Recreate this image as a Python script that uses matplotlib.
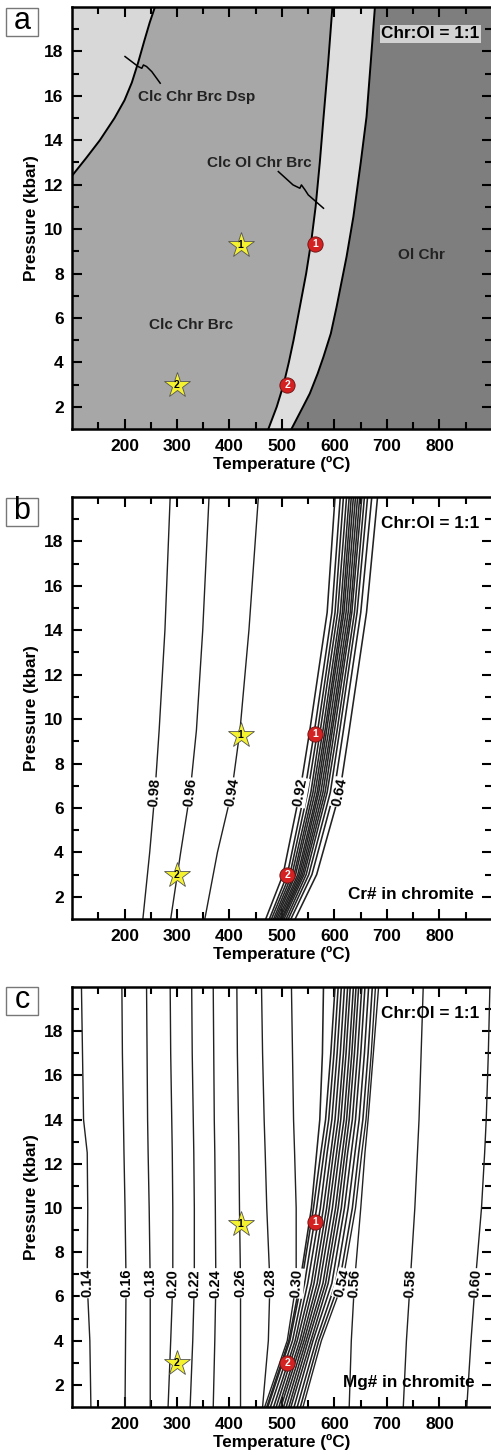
import numpy as np
import matplotlib
matplotlib.use('Agg')
import matplotlib.pyplot as plt
from matplotlib.patches import Rectangle

plt.rcParams['font.family'] = ['Liberation Sans', 'DejaVu Sans']
plt.rcParams['font.weight'] = 'bold'
plt.rcParams['axes.labelweight'] = 'bold'

# sample points (T in C, P in kbar)
stars_T = [421, 300]
stars_P = [9.3, 3.0]
dots_T = [563, 510]
dots_P = [9.35, 3.0]
point_ids = ['1', '2']

# panel a: phase boundaries
dsp_T = [100, 127, 153, 181, 200, 214, 226, 238, 248, 258]
dsp_P = [12.4, 13.2, 14.0, 15.0, 15.8, 16.6, 17.5, 18.5, 19.3, 20.0]
ol_in_T = [474, 490, 503, 513, 522, 534, 546, 556, 564, 572, 579, 588, 596]
ol_in_P = [1, 2, 3, 4, 5, 6.5, 8, 9.5, 11, 13, 15, 17.5, 20]
brc_out_T = [518, 540, 553, 568, 579, 593, 604, 623, 636, 650, 661, 669, 677]
brc_out_P = [1, 2, 2.6, 3.5, 4.25, 5.3, 6.5, 8.76, 10.56, 13, 15.06, 17.5, 20]

# leader lines from field names to boundaries
lead_dsp_T = [268, 252, 242, 236, 233, 226, 201]
lead_dsp_P = [16.57, 17.09, 17.32, 17.39, 17.24, 17.32, 17.77]
lead_ol_T = [493, 521, 534, 537, 544, 550, 579]
lead_ol_P = [12.59, 11.99, 11.84, 11.99, 11.76, 11.54, 10.94]

field_names = ['Clc Chr Brc Dsp', 'Clc Ol Chr Brc', 'Ol Chr', 'Clc Chr Brc']
field_T = [337, 457, 766, 326]
field_P = [15.96, 12.96, 8.83, 5.68]

# panel b: Cr# isopleths
cr_P = [1, 4, 6.7, 9.5, 14, 20]
cr_levels = ['0.98', '0.96', '0.94']
cr_T = [[235, 248, 258, 266, 277, 287],
        [288, 307, 325, 337, 349, 361],
        [353, 377, 404, 420, 437, 455]]
cr_band_P = [1, 3, 6.7, 9.5, 14.8, 20]
cr_band_levels = ['0.92', '0.90', '0.88', '0.86', '0.84', '0.82', '0.80', '0.78',
                  '0.76', '0.74', '0.72', '0.70', '0.68', '0.66', '0.64']
cr_band_T = [[469, 502, 534, 553, 586, 601],
             [476, 510, 543, 562, 595, 611],
             [480, 515, 549, 568, 601, 617],
             [484, 519, 555, 573, 606, 623],
             [487, 523, 559, 578, 611, 628],
             [490, 526, 563, 582, 615, 632],
             [493, 530, 567, 585, 618, 636],
             [496, 533, 570, 589, 622, 640],
             [499, 536, 574, 593, 626, 644],
             [501, 539, 578, 596, 630, 648],
             [504, 542, 582, 600, 633, 652],
             [508, 546, 586, 605, 638, 657],
             [512, 551, 592, 610, 643, 663],
             [517, 557, 599, 617, 650, 671],
             [525, 566, 610, 628, 661, 682]]

# panel c: Mg# isopleths
mg_P = [1, 4, 6.6, 10, 12.5, 14, 17, 20]
mg_levels = ['0.14', '0.16', '0.18', '0.20', '0.22', '0.24', '0.26', '0.28', '0.30',
             '0.54', '0.56', '0.58', '0.60']
mg_T = [[136, 134, 129, 130, 129, 122, 120, 118],
        [201, 202, 203, 201, 199, 198, 196, 195],
        [249, 249, 249, 247, 245, 244, 243, 242],
        [283, 288, 292, 292, 291, 290, 288, 287],
        [325, 330, 333, 333, 332, 331, 329, 328],
        [369, 372, 374, 373, 372, 371, 370, 369],
        [421, 421, 421, 419, 418, 417, 415, 414],
        [463, 474, 477, 471, 468, 466, 463, 461],
        [467, 510, 527, 527, 524, 522, 520, 518],
        [540, 575, 615, 640, 652, 660, 670, 678],
        [628, 632, 638, 650, 658, 664, 674, 684],
        [731, 737, 744, 753, 758, 761, 765, 769],
        [852, 860, 868, 880, 886, 889, 893, 896]]
# unlabelled isopleths packed between 0.30 and 0.54
mg_band_T = [[471, 513, 534, 556, 566, 572, 577, 579],
             [473, 515, 537, 560, 574, 583, 593, 601],
             [478, 520, 543, 566, 580, 589, 599, 607],
             [484, 525, 549, 573, 586, 595, 605, 613],
             [489, 529, 556, 579, 593, 601, 611, 619],
             [494, 534, 561, 585, 598, 607, 617, 625],
             [498, 538, 567, 590, 604, 612, 622, 630],
             [503, 542, 572, 596, 609, 618, 628, 636],
             [508, 546, 578, 602, 615, 623, 633, 641],
             [513, 550, 583, 607, 620, 628, 638, 646],
             [517, 555, 588, 613, 625, 634, 644, 652],
             [523, 559, 595, 619, 632, 640, 650, 658],
             [529, 565, 602, 626, 639, 647, 657, 665],
             [535, 570, 609, 634, 646, 654, 664, 672]]

LINE_COLOR = '#222222'


def style_axes(ax):
    ax.set_xlim(100, 900)
    ax.set_ylim(1, 20)
    ax.set_xticks(range(200, 900, 100))
    ax.set_xticks(range(150, 900, 100), minor=True)
    ax.set_yticks(range(2, 20, 2))
    ax.set_yticks(range(3, 20, 2), minor=True)
    ax.tick_params(which='both', direction='in', top=True, right=True, width=1.5)
    ax.tick_params(which='major', length=7, labelsize=12.5)
    ax.tick_params(which='minor', length=5)
    ax.tick_params(axis='x', which='major', pad=7)
    ax.tick_params(axis='y', which='major', pad=6)
    for s in ax.spines.values():
        s.set_linewidth(1.8)
    ax.set_xlabel('Temperature (ºC)', fontsize=12.3, labelpad=2)
    ax.set_ylabel('Pressure (kbar)', fontsize=12.3, labelpad=4)


def add_points(ax):
    ax.plot(stars_T, stars_P, ls='none', marker='*', ms=19, mfc='#f5f230',
            mec='#555555', mew=0.6, zorder=5)
    ax.plot(dots_T, dots_P, ls='none', marker='o', ms=11, mfc='#d42222',
            mec='#6a1010', mew=0.6, zorder=5)
    for t, p, n in zip(stars_T, stars_P, point_ids):
        ax.text(t, p, n, fontsize=7.5, ha='center', va='center', color='black', zorder=6)
    for t, p, n in zip(dots_T, dots_P, point_ids):
        ax.text(t, p, n, fontsize=7.5, ha='center', va='center', color='white', zorder=6)


def label_line(ax, T, P, p0, text):
    t0 = np.interp(p0, P, T)
    a = ax.transData.transform((np.interp(p0 - 1, P, T), p0 - 1))
    b = ax.transData.transform((np.interp(p0 + 1, P, T), p0 + 1))
    ang = np.degrees(np.arctan2(b[1] - a[1], b[0] - a[0]))
    ax.text(t0, p0, text, rotation=ang, rotation_mode='anchor', ha='center',
            va='center', fontsize=10.5, zorder=4,
            bbox=dict(fc='white', ec='none', pad=0.5))


def panel_letter(fig, top_px, letter):
    # boxed panel letter, box 32 x 28 px
    x0, w, h = 6 / 491, 32 / 491, 28 / 1455
    y0 = 1 - (top_px + 28) / 1455
    fig.patches.append(Rectangle((x0, y0), w, h, transform=fig.transFigure,
                                 fc='white', ec='#777777', lw=1))
    fig.text(x0 + w / 2, y0 + h / 2 + 0.001, letter, fontsize=22, fontweight='normal',
             ha='center', va='center')


fig = plt.figure(figsize=(4.91, 14.55), dpi=100)
ax_a = fig.add_axes([72 / 491, 1 - 429 / 1455, 420 / 491, 422 / 1455])
ax_b = fig.add_axes([72 / 491, 1 - 919 / 1455, 420 / 491, 422 / 1455])
ax_c = fig.add_axes([72 / 491, 1 - 1407 / 1455, 420 / 491, 420 / 1455])
for ax in (ax_a, ax_b, ax_c):
    style_axes(ax)

# ---- panel a: phase diagram ----
ax_a.set_facecolor('#a7a7a7')
ax_a.fill(dsp_T + [100], dsp_P + [20], color='#d8d8d8', lw=0)
ax_a.fill(ol_in_T + brc_out_T[::-1], ol_in_P + brc_out_P[::-1], color='#dedede', lw=0)
ax_a.fill(brc_out_T + [900, 900], brc_out_P + [20, 1], color='#7e7e7e', lw=0)
for T, P in [(dsp_T, dsp_P), (ol_in_T, ol_in_P), (brc_out_T, brc_out_P)]:
    ax_a.plot(T, P, color='black', lw=1.4)
ax_a.plot(lead_dsp_T, lead_dsp_P, color='black', lw=1.1)
ax_a.plot(lead_ol_T, lead_ol_P, color='black', lw=1.1)
for name, t, p in zip(field_names, field_T, field_P):
    ax_a.text(t, p, name, fontsize=11, ha='center', va='center', color='#222222')
ax_a.text(876, 18.8, 'Chr:Ol = 1:1', fontsize=12.3, ha='right', va='center',
          bbox=dict(fc='#d2d2d2', ec='none', pad=1.0))
add_points(ax_a)

# ---- panel b: Cr# in chromite ----
for lev, T in zip(cr_levels, cr_T):
    ax_b.plot(T, cr_P, color=LINE_COLOR, lw=1.0)
    label_line(ax_b, T, cr_P, 6.7, lev)
for i, (lev, T) in enumerate(zip(cr_band_levels, cr_band_T)):
    ax_b.plot(T, cr_band_P, color=LINE_COLOR, lw=1.15)
    if i == 0 or i == len(cr_band_T) - 1:
        label_line(ax_b, T, cr_band_P, 6.7, lev)
ax_b.text(876, 18.8, 'Chr:Ol = 1:1', fontsize=12.3, ha='right', va='center')
ax_b.text(866, 2.1, 'Cr# in chromite', fontsize=12.3, ha='right', va='center')
add_points(ax_b)

# ---- panel c: Mg# in chromite ----
for T in mg_band_T:
    ax_c.plot(T, mg_P, color=LINE_COLOR, lw=1.15)
for lev, T in zip(mg_levels, mg_T):
    ax_c.plot(T, mg_P, color=LINE_COLOR, lw=1.0)
    label_line(ax_c, T, mg_P, 6.6, lev)
ax_c.text(876, 18.8, 'Chr:Ol = 1:1', fontsize=12.3, ha='right', va='center')
ax_c.text(866, 2.1, 'Mg# in chromite', fontsize=12.3, ha='right', va='center')
add_points(ax_c)

panel_letter(fig, 8, 'a')
panel_letter(fig, 498, 'b')
panel_letter(fig, 987, 'c')

fig.savefig('out.png', dpi=100)
plt.close(fig)
